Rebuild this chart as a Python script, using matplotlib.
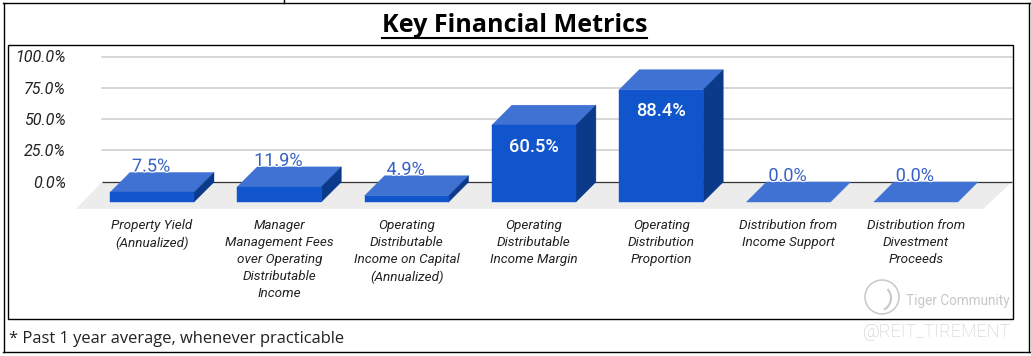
import matplotlib
matplotlib.use("Agg")
import matplotlib.pyplot as plt
from matplotlib.patches import Polygon, Rectangle, Ellipse, Arc
from matplotlib.lines import Line2D
import matplotlib.patheffects as pe

categories = ["Property Yield\n(Annualized)",
              "Manager\nManagement Fees\nover Operating\nDistributable\nIncome",
              "Operating\nDistributable\nIncome on Capital\n(Annualized)",
              "Operating\nDistributable\nIncome Margin",
              "Operating\nDistribution\nProportion",
              "Distribution from\nIncome Support",
              "Distribution from\nDivestment\nProceeds"]
values = [7.5, 11.9, 4.9, 60.5, 88.4, 0.0, 0.0]
y_ticks = [0, 25, 50, 75, 100]
title = "Key Financial Metrics"
footnote = "* Past 1 year average, whenever practicable"

W, H = 1031, 356
fig = plt.figure(figsize=(W / 100, H / 100), dpi=100, facecolor="white")
def fx(p): return p / W
def fy(p): return 1 - p / H
def axrect(l, t, r, b): return [fx(l), fy(b), (r - l) / W, (b - t) / H]

FRONT, TOP, SIDE = "#1155cc", "#3f72d2", "#0b3a8a"
FLOOR, GRID = "#ececec", "#cccccc"
LBL_BLUE = "#3560c4"
FONT = "Roboto"

# back wall axes: gridlines and y labels
wall = fig.add_axes(axrect(102, 56.5, 1012, 181.5))
wall.set_ylim(0, 100)
wall.set_xlim(0, 1)
wall.set_yticks(y_ticks)
wall.set_yticklabels([f"{v:.1f}%" for v in y_ticks], fontfamily=FONT, style="italic",
                     fontsize=11.6, color="#222222")
wall.tick_params(axis="y", length=0, pad=26)
wall.set_xticks([])
for s in wall.spines.values():
    s.set_visible(False)
for v in y_ticks[1:]:
    wall.axhline(v, color=GRID, lw=1.1, clip_on=False)
wall.patch.set_alpha(0)

# front plane axes: floor, bars and category labels
PX_Y = 1.27     # pixels per percent on the front plane
PX_X = 127.3    # pixels per category
X0 = 152        # pixel position of the first category
Y0 = 202        # pixel position of the front zero line
left, right, top, bottom = 76, 1012, 44, 209
ax = fig.add_axes(axrect(left, top, right, bottom), zorder=2)
ax.patch.set_alpha(0)
ax.set_xlim((left - X0) / PX_X, (right - X0) / PX_X)
ax.set_ylim((Y0 - bottom) / PX_Y, (Y0 - top) / PX_Y)
for s in ax.spines.values():
    s.set_visible(False)
ax.set_yticks([])
ax.set_xticks(range(len(categories)))
ax.set_xticklabels(categories, fontfamily=FONT, style="italic", fontsize=9.7,
                   color="#222222", linespacing=1.4)
ax.tick_params(axis="x", length=0, pad=7.5)

dx, dy = 20 / PX_X, 20 / PX_Y
bw = 84 / PX_X
fl = -7 / PX_Y

# floor
xa, xb = (left - X0) / PX_X, (983 - X0) / PX_X
ax.add_patch(Polygon([(xa, fl), (xb, fl), (xb + 29 / PX_X, dy), (xa + 26 / PX_X, dy)],
                     fc=FLOOR, ec="none", zorder=1))
ax.plot([(102 - X0) / PX_X, (right - X0) / PX_X], [dy, dy], color="#333333", lw=0.9,
        zorder=1.5, clip_on=False, solid_capstyle="butt")

for i, v in enumerate(values):
    x0, x1 = i - bw / 2, i + bw / 2
    ax.add_patch(Polygon([(x0, v), (x1, v), (x1 + dx, v + dy), (x0 + dx, v + dy)],
                         fc=TOP, ec=TOP, lw=0.3, zorder=3))
    if v > 0:
        ax.add_patch(Polygon([(x1, 0), (x1 + dx, dy), (x1 + dx, v + dy), (x1, v)],
                             fc=SIDE, ec=SIDE, lw=0.3, zorder=3))
        ax.bar(i, v, width=bw, color=FRONT, edgecolor=FRONT, linewidth=0.3, zorder=3.2)
    txt = f"{v:.1f}%"
    if v > 30:
        ax.annotate(txt, (i, v), xytext=(0, -15.5), textcoords="offset points",
                    ha="center", va="center", fontfamily=FONT, fontsize=13.2,
                    fontweight="medium", color="white", zorder=5)
    else:
        ax.annotate(txt, (i - 0.008, v + dy), xytext=(0, 4.3), textcoords="offset points",
                    ha="center", va="center", fontfamily=FONT, fontsize=13,
                    color=LBL_BLUE, zorder=5,
                    path_effects=[pe.withStroke(linewidth=1.5, foreground="white")])

# frames
def hline(x0, x1, y, lw=1.0, c="black"):
    fig.add_artist(Line2D([fx(x0), fx(x1)], [fy(y), fy(y)], color=c, lw=lw))
def vline(x, y0, y1, lw=1.0, c="black"):
    fig.add_artist(Line2D([fx(x), fx(x)], [fy(y0), fy(y1)], color=c, lw=lw))
hline(3, 1031, 2.5)
hline(3, 1031, 352)
vline(3.5, 2.5, 352)
vline(1028.5, 2.5, 352)
vline(283.5, 0, 2.5)
fig.add_artist(Rectangle((fx(7.5), fy(318.5)), 1005 / W, 274 / H, transform=fig.transFigure,
                         fc="none", ec="black", lw=1.0))

# title and footnote
fig.text(fx(514.5), fy(25.5), title, ha="center", va="center", fontfamily="Open Sans",
         fontweight="bold", fontsize=18.1, color="black")
hline(382, 647, 38, lw=1.5)
fig.text(fx(9), fy(339), footnote, ha="left", va="center", fontfamily="Open Sans",
         fontsize=11.9, color="#222222")

# watermark
wm = "#c8c8c8"
fig.text(fx(906), fy(301), "Tiger Community", ha="left", va="center", fontfamily=FONT,
         fontsize=9.8, color=wm)
fig.text(fx(1011), fy(332), "@REIT_TIREMENT", ha="right", va="center", fontfamily=FONT,
         fontsize=13, color=wm, fontweight="light")
fig.add_artist(Ellipse((fx(882), fy(297)), 34 / W, 34 / H, transform=fig.transFigure,
                       fc="none", ec=wm, lw=1.1))
fig.add_artist(Arc((fx(878), fy(298)), 26 / W, 26 / H, angle=0, theta1=280, theta2=70,
                   transform=fig.transFigure, ec=wm, lw=1.5))

fig.savefig("out.png", dpi=100)
